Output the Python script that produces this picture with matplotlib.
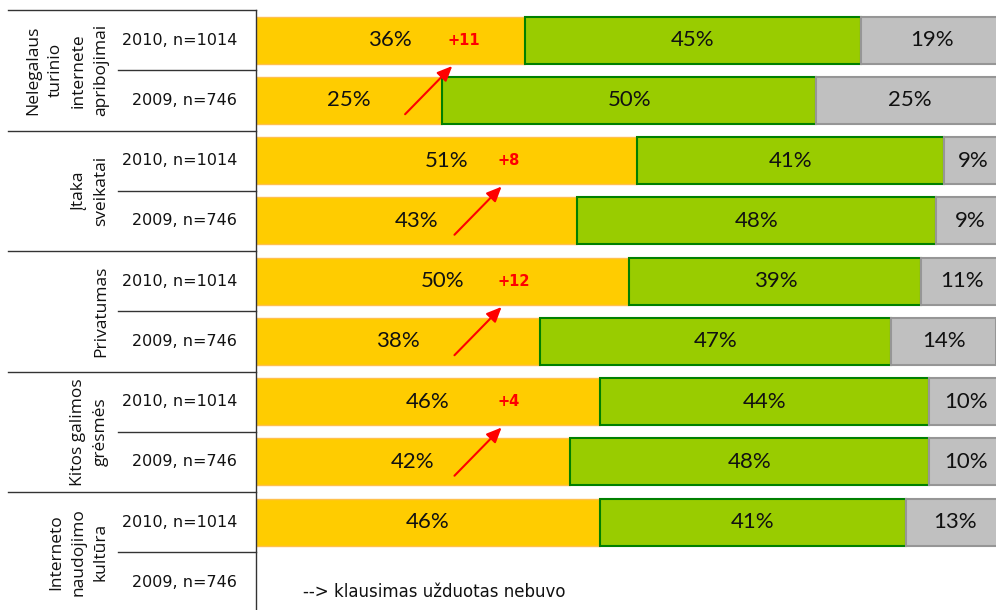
import matplotlib.pyplot as plt
from matplotlib.transforms import blended_transform_factory

# categories (top to bottom)
groups = ["Nelegalaus\nturinio\ninternete\napribojimai", "Įtaka\nsveikatai",
          "Privatumas", "Kitos galimos\ngrėsmės", "Interneto\nnaudojimo\nkultūra"]
years = ["2010, n=1014", "2009, n=746"]

# shares per row: first / second / third answer group (None = not asked)
orange = [36, 25, 51, 43, 50, 38, 46, 42, 46, None]
green = [45, 50, 41, 48, 39, 47, 44, 48, 41, None]
grey = [19, 25, 9, 9, 11, 14, 10, 10, 13, None]

note = "--> klausimas užduotas nebuvo"

# arrow head x-positions for the change markers (groups 1-4)
arrow_x = [26.3, 32.9, 32.9, 32.9]

W, H = 996, 610
fig = plt.figure(figsize=(W / 100, H / 100), dpi=100)
top_px, row_px = 10, 60.25
n_rows = len(orange)
ax = fig.add_axes([255.5 / W, 1 - (top_px + row_px * n_rows) / H,
                   (W - 255.5) / W, row_px * n_rows / H])
ax.set_xlim(0, 99)
ax.set_ylim(n_rows - 0.5, -0.5)
ax.axis("off")

bar_h = 0.78
pct_font = dict(family="Lato", fontsize=16, color="#111111", ha="center", va="center")
for i in range(n_rows):
    if orange[i] is None:
        continue
    o, g, r = orange[i], green[i], grey[i]
    ax.barh(i, o, height=bar_h, color="#FFCC00", edgecolor="#FFC04D", linewidth=1)
    ax.barh(i, g, left=o, height=bar_h, color="#99CC00", edgecolor="#008000", linewidth=1.5)
    ax.barh(i, r, left=o + g, height=bar_h, color="#C0C0C0", edgecolor="#969696", linewidth=1.5)
    ax.text(o / 2, i, f"{o}%", **pct_font)
    ax.text(o + g / 2, i, f"{g}%", **pct_font)
    ax.text((o + g + min(o + g + r, 100)) / 2, i, f"{r}%", **pct_font)

# change markers between 2009 and 2010
for k, hx in enumerate(arrow_x):
    i = 2 * k
    diff = orange[i] - orange[i + 1]
    ax.annotate("", xy=(hx, i + 0.43), xytext=(hx - 6.3, i + 1.23),
                arrowprops=dict(arrowstyle="-|>,head_length=0.9,head_width=0.4",
                                color="red", lw=1.5, shrinkA=0, shrinkB=0))
    ax.text(hx - 0.6, i, f"+{diff}", color="red", fontsize=10.5, fontweight="bold",
            ha="left", va="center")

ax.text(6.4, 9.16, note, fontsize=12, ha="left", va="center", color="#111111")

# left category area
tr = blended_transform_factory(fig.transFigure, ax.transData)
lc = "#333333"
ax.plot([255.5 / W, 255.5 / W], [-0.5, n_rows - 0.5], color=lc, lw=1,
        transform=tr, clip_on=False)
for gi, name in enumerate(groups):
    y0 = 2 * gi - 0.5
    ax.plot([8 / W, 255.5 / W], [y0, y0], color=lc, lw=1, transform=tr, clip_on=False)
    ax.plot([118 / W, 255.5 / W], [y0 + 1, y0 + 1], color=lc, lw=1, transform=tr, clip_on=False)
    ax.text(109 / W, 2 * gi + 0.5, name, rotation=90, ha="right", va="center",
            multialignment="center", family="Open Sans", fontsize=12.5, linespacing=1.55,
            transform=tr, color="#111111")
    for j, yl in enumerate(years):
        ax.text(237 / W, 2 * gi + j, yl, ha="right", va="center", fontsize=11.5,
                transform=tr, color="#111111")

fig.savefig("out.png", dpi=100)
